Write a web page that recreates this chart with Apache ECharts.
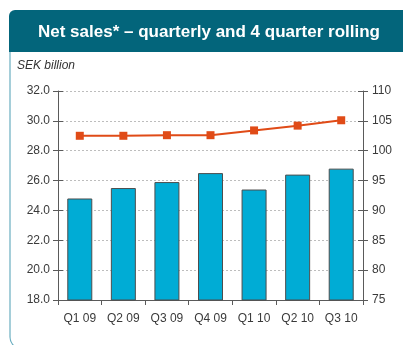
<!DOCTYPE html>
<html>
<head>
<meta charset="utf-8">
<script src="https://cdn.jsdelivr.net/npm/echarts@6/dist/echarts.min.js"></script>
<style>
  html, body { margin: 0; padding: 0; background: #fff; }
  #chart { width: 403px; height: 345px; }
</style>
</head>
<body>
<div id="chart"></div>
<script>
// Quarter labels
const quarters = ['Q1 09', 'Q2 09', 'Q3 09', 'Q4 09', 'Q1 10', 'Q2 10', 'Q3 10'];
// Quarterly net sales, SEK billion (left axis)
const quarterlySales = [24.8, 25.5, 25.9, 26.5, 25.4, 26.4, 26.8];
// 4 quarter rolling net sales, SEK billion (right axis)
const rollingSales = [102.5, 102.5, 102.6, 102.6, 103.4, 104.2, 105.1];
// Axis ranges
const leftAxis = { min: 18, max: 32, interval: 2 };
const rightAxis = { min: 75, max: 110, interval: 5 };

const chart = echarts.init(document.getElementById('chart'), null, { renderer: 'canvas' });
const font = 'Liberation Sans, Arial, sans-serif';
const axisColor = '#5a5a5a';

function yAxisBase(range, position, showLabels, inside) {
  return {
    type: 'value',
    position: position,
    min: range.min,
    max: range.max,
    interval: range.interval,
    axisLine: { show: showLabels, lineStyle: { color: axisColor, width: 1 } },
    axisTick: { show: true, inside: inside, length: 5, lineStyle: { color: axisColor } },
    axisLabel: {
      show: showLabels,
      color: '#3a3a3a',
      fontFamily: font,
      fontSize: 12,
      margin: position === 'left' ? 8 : 9,
      formatter: position === 'left' ? (v) => v.toFixed(1) : (v) => String(v)
    },
    splitLine: { show: false }
  };
}

const leftMain = yAxisBase(leftAxis, 'left', true, false);
leftMain.splitLine = { show: true, lineStyle: { color: '#bdbdbd', type: [2, 2], width: 1 } };

chart.setOption({
  animation: false,
  backgroundColor: '#fff',
  graphic: [
    {
      type: 'rect',
      shape: { x: 10, y: 40, width: 420, height: 309, r: [0, 0, 0, 12] },
      style: { fill: 'none', stroke: '#6aaec0', lineWidth: 1.2 },
      z: 0
    },
    {
      type: 'rect',
      shape: { x: 9, y: 10, width: 420, height: 42, r: [6, 0, 0, 0] },
      style: { fill: '#03657b' },
      z: 1
    },
    {
      type: 'text',
      x: 209, y: 32,
      style: {
        text: 'Net sales* \u2013 quarterly and 4 quarter rolling',
        fill: '#fff',
        font: 'bold 17px ' + font,
        textAlign: 'center',
        textVerticalAlign: 'middle'
      },
      z: 2
    },
    {
      type: 'text',
      x: 17, y: 66,
      style: {
        text: 'SEK billion',
        fill: '#333',
        font: 'italic 12px ' + font,
        textAlign: 'left',
        textVerticalAlign: 'middle'
      },
      z: 2
    }
  ],
  grid: { left: 58, right: 40, top: 91, bottom: 45 },
  xAxis: {
    type: 'category',
    data: quarters,
    boundaryGap: true,
    axisLine: { lineStyle: { color: axisColor, width: 1 } },
    axisTick: { show: true, length: 5, alignWithLabel: false, lineStyle: { color: axisColor } },
    axisLabel: { color: '#3a3a3a', fontFamily: font, fontSize: 12, margin: 13 }
  },
  yAxis: [
    leftMain,
    yAxisBase(rightAxis, 'right', true, false),
    yAxisBase(leftAxis, 'left', false, true),
    yAxisBase(rightAxis, 'right', false, true)
  ],
  series: [
    {
      name: 'Quarterly',
      type: 'bar',
      yAxisIndex: 0,
      data: quarterlySales,
      barWidth: 25,
      itemStyle: { color: '#00acd5', borderColor: '#4d4d4d', borderWidth: 1 },
      z: 2
    },
    {
      name: '4 quarter rolling',
      type: 'line',
      yAxisIndex: 1,
      data: rollingSales,
      symbol: 'rect',
      symbolSize: 8,
      lineStyle: { color: '#e04b17', width: 2 },
      itemStyle: { color: '#e04b17' },
      z: 3
    }
  ]
});
</script>
</body>
</html>
